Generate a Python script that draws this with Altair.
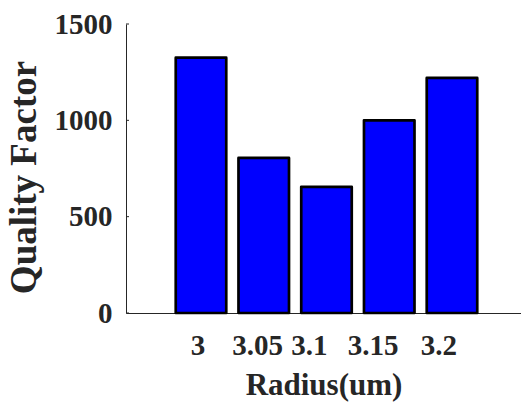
import altair as alt
import pandas as pd

radius = ["3", "3.05", "3.1", "3.15", "3.2"]
quality = [1325, 805, 655, 1000, 1220]
y_ticks = [0, 500, 1000, 1500]
label_shift = [-3, -6, -17, -16, -13]

df = pd.DataFrame({"radius": radius, "q": quality})
tick_df = pd.DataFrame({"q": y_ticks})

FONT = "Liberation Serif, Times New Roman, serif"
DARK = "#262626"

cond = [{"test": f"datum.value === '{r}'", "value": s} for r, s in zip(radius, label_shift)]

y_axis = alt.Axis(
    values=y_ticks,
    format="d",
    title="Quality Factor",
    ticks=False,
    tickSize=0,
    grid=False,
    labelPadding=14,
    labelFontSize=29,
    titleFontSize=37,
    titlePadding=11,
    titleY=153,
)
y_scale = alt.Scale(domain=[0, 1500], nice=False)

bars = alt.Chart(df).mark_bar(
    color="#0000ff", stroke="black", strokeWidth=2.7, strokeJoin="round"
).encode(
    x=alt.X(
        "radius:N",
        sort=radius,
        scale=alt.Scale(paddingInner=0.195, paddingOuter=0.745, align=0.532),
        axis=alt.Axis(
            title="Radius(um)",
            labelAngle=0,
            ticks=False,
            tickSize=0,
            labelPadding=18,
            labelOffset={"condition": cond, "value": 0},
            labelFontSize=29,
            titleFontSize=31,
            titlePadding=10,
        ),
    ),
    y=alt.Y("q:Q", scale=y_scale, axis=y_axis),
)

ticks = alt.Chart(tick_df).mark_rule(color=DARK, strokeWidth=1).encode(
    y=alt.Y("q:Q", scale=y_scale, axis=y_axis),
    x=alt.value(0),
    x2=alt.value(3),
)

chart = alt.layer(bars, ticks).properties(
    width=395,
    height=289,
    autosize=alt.AutoSizeParams(type="none"),
    padding={"left": 126, "top": 24, "right": 0, "bottom": 90},
    background="white",
).configure_view(stroke=None).configure_axis(
    labelFont=FONT,
    titleFont=FONT,
    labelFontWeight="bold",
    titleFontWeight="bold",
    labelColor=DARK,
    titleColor=DARK,
    domainColor=DARK,
    domainWidth=1,
    grid=False,
)

chart.save("out.html", embed_options={"renderer": "svg", "actions": False})
